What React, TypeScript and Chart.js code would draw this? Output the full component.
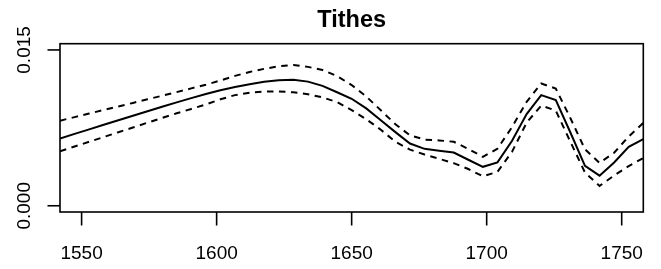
import React, { useEffect, useRef } from "react";
import { Chart, registerables } from "chart.js";

Chart.register(...registerables);

const chartTitle = "Tithes";

const years = [
  1542, 1547.4, 1552.8, 1558.2, 1563.6, 1569, 1574.4, 1579.8, 1585.2, 1590.6,
  1596, 1601.4, 1606.8, 1612.2, 1617.6, 1623, 1628.4, 1633.8, 1639.2, 1644.6,
  1650, 1655.4, 1660.8, 1666.2, 1671.6, 1677, 1682.4, 1687.8, 1693.2, 1698.6,
  1704, 1709.4, 1714.8, 1720.2, 1725.6, 1731, 1736.4, 1741.8, 1747.2, 1752.6,
  1758,
];

const fitValues = [
  0.00648, 0.00692, 0.00735, 0.0078, 0.00823, 0.00866, 0.0091, 0.00953, 0.00995, 0.01036,
  0.01076, 0.01112, 0.01143, 0.0117, 0.01193, 0.01209, 0.01213, 0.01195, 0.01154, 0.01093,
  0.01030, 0.00937, 0.00823, 0.00709, 0.00599, 0.00548, 0.00529, 0.00512, 0.00443, 0.00375,
  0.00418, 0.00626, 0.00882, 0.01065, 0.01017, 0.00705, 0.00384, 0.0029, 0.00417, 0.00568,
  0.00642,
];

const upperValues = [
  0.00819, 0.00853, 0.00888, 0.00922, 0.00956, 0.0099, 0.01025, 0.01059, 0.01094, 0.0113,
  0.01165, 0.01206, 0.01250, 0.01288, 0.01318, 0.01343, 0.01356, 0.01337, 0.01307, 0.01249,
  0.01162, 0.01052, 0.00919, 0.00785, 0.00678, 0.00637, 0.00629, 0.00616, 0.00547, 0.00471,
  0.00549, 0.00758, 0.01001, 0.01177, 0.01128, 0.00844, 0.00544, 0.00413, 0.0051, 0.00667,
  0.00797,
];

const lowerValues = [
  0.00525, 0.0057, 0.00616, 0.00662, 0.00708, 0.00753, 0.008, 0.00845, 0.00890, 0.00932,
  0.00975, 0.01025, 0.01065, 0.01088, 0.01099, 0.011, 0.01092, 0.01074, 0.01043, 0.00998,
  0.00921, 0.00833, 0.00732, 0.00616, 0.0054, 0.00493, 0.00452, 0.0041, 0.00354, 0.00283,
  0.00327, 0.0052, 0.008, 0.00964, 0.00916, 0.00616, 0.0032, 0.00191, 0.00291, 0.00382,
  0.00459,
];

const xTicks = [1550, 1600, 1650, 1700, 1750];
const xTickLabels = ["1550", "1600", "1650", "1700", "1750"];
const yTicks = [0, 0.015];
const yTickLabels = ["0.000", "0.015"];

const FONT = "'Liberation Sans', Arial, Helvetica, sans-serif";

const axesPlugin = {
  id: "rAxes",
  afterDraw(chart: any) {
    const { ctx, chartArea, scales } = chart;
    const xs = scales.x;
    const ys = scales.y;
    ctx.save();
    ctx.strokeStyle = "#000";
    ctx.fillStyle = "#000";
    ctx.lineWidth = 1.6;
    ctx.strokeRect(chartArea.left, chartArea.top, chartArea.right - chartArea.left, chartArea.bottom - chartArea.top);
    ctx.font = `19px ${FONT}`;
    ctx.textAlign = "center";
    ctx.textBaseline = "alphabetic";
    xTicks.forEach((v, i) => {
      const px = xs.getPixelForValue(v);
      ctx.beginPath();
      ctx.moveTo(px, chartArea.bottom);
      ctx.lineTo(px, chartArea.bottom + 13.5);
      ctx.stroke();
      ctx.fillText(xTickLabels[i], px, 258.5);
    });
    yTicks.forEach((v, i) => {
      const py = ys.getPixelForValue(v);
      ctx.beginPath();
      ctx.moveTo(chartArea.left, py);
      ctx.lineTo(chartArea.left - 12.5, py);
      ctx.stroke();
      ctx.save();
      ctx.translate(30, py);
      ctx.rotate(-Math.PI / 2);
      ctx.fillText(yTickLabels[i], 0, 0);
      ctx.restore();
    });
    ctx.font = `bold 23.5px ${FONT}`;
    ctx.textAlign = "center";
    ctx.fillText(chartTitle, (chartArea.left + chartArea.right) / 2, 26.7);
    ctx.restore();
  },
};

export default function App() {
  const ref = useRef<HTMLCanvasElement | null>(null);

  useEffect(() => {
    if (!ref.current) return;
    const mk = (vals: number[]) => years.map((x, i) => ({ x, y: vals[i] }));
    const dashed = {
      borderColor: "#000",
      borderWidth: 2,
      borderDash: [6.5, 5.5],
      pointRadius: 0,
      tension: 0,
      fill: false,
    };
    const chart = new Chart(ref.current, {
      type: "line",
      data: {
        datasets: [
          { label: "upper", data: mk(upperValues), ...dashed },
          {
            label: "fit",
            data: mk(fitValues),
            borderColor: "#000",
            borderWidth: 2,
            pointRadius: 0,
            tension: 0,
            fill: false,
          },
          { label: "lower", data: mk(lowerValues), ...dashed },
        ],
      },
      options: {
        responsive: false,
        animation: false,
        devicePixelRatio: 1,
        layout: { padding: { left: 0, right: 17.7, top: 43.7, bottom: 0 } },
        plugins: {
          legend: { display: false },
          tooltip: { enabled: false },
          title: { display: false },
        },
        scales: {
          x: {
            type: "linear",
            min: 1542,
            max: 1758,
            grid: { display: false },
            border: { display: false },
            ticks: { display: false },
            afterFit: (s: any) => {
              s.height = 57;
            },
          },
          y: {
            type: "linear",
            min: -0.0006,
            max: 0.0156,
            grid: { display: false },
            border: { display: false },
            ticks: { display: false },
            afterFit: (s: any) => {
              s.width = 60;
            },
          },
        },
      },
      plugins: [axesPlugin],
    });
    return () => chart.destroy();
  }, []);

  return (
    <div style={{ position: "fixed", left: 0, top: 0, width: 661, height: 269, background: "#fff" }}>
      <canvas ref={ref} width={661} height={269} style={{ display: "block" }} />
    </div>
  );
}
